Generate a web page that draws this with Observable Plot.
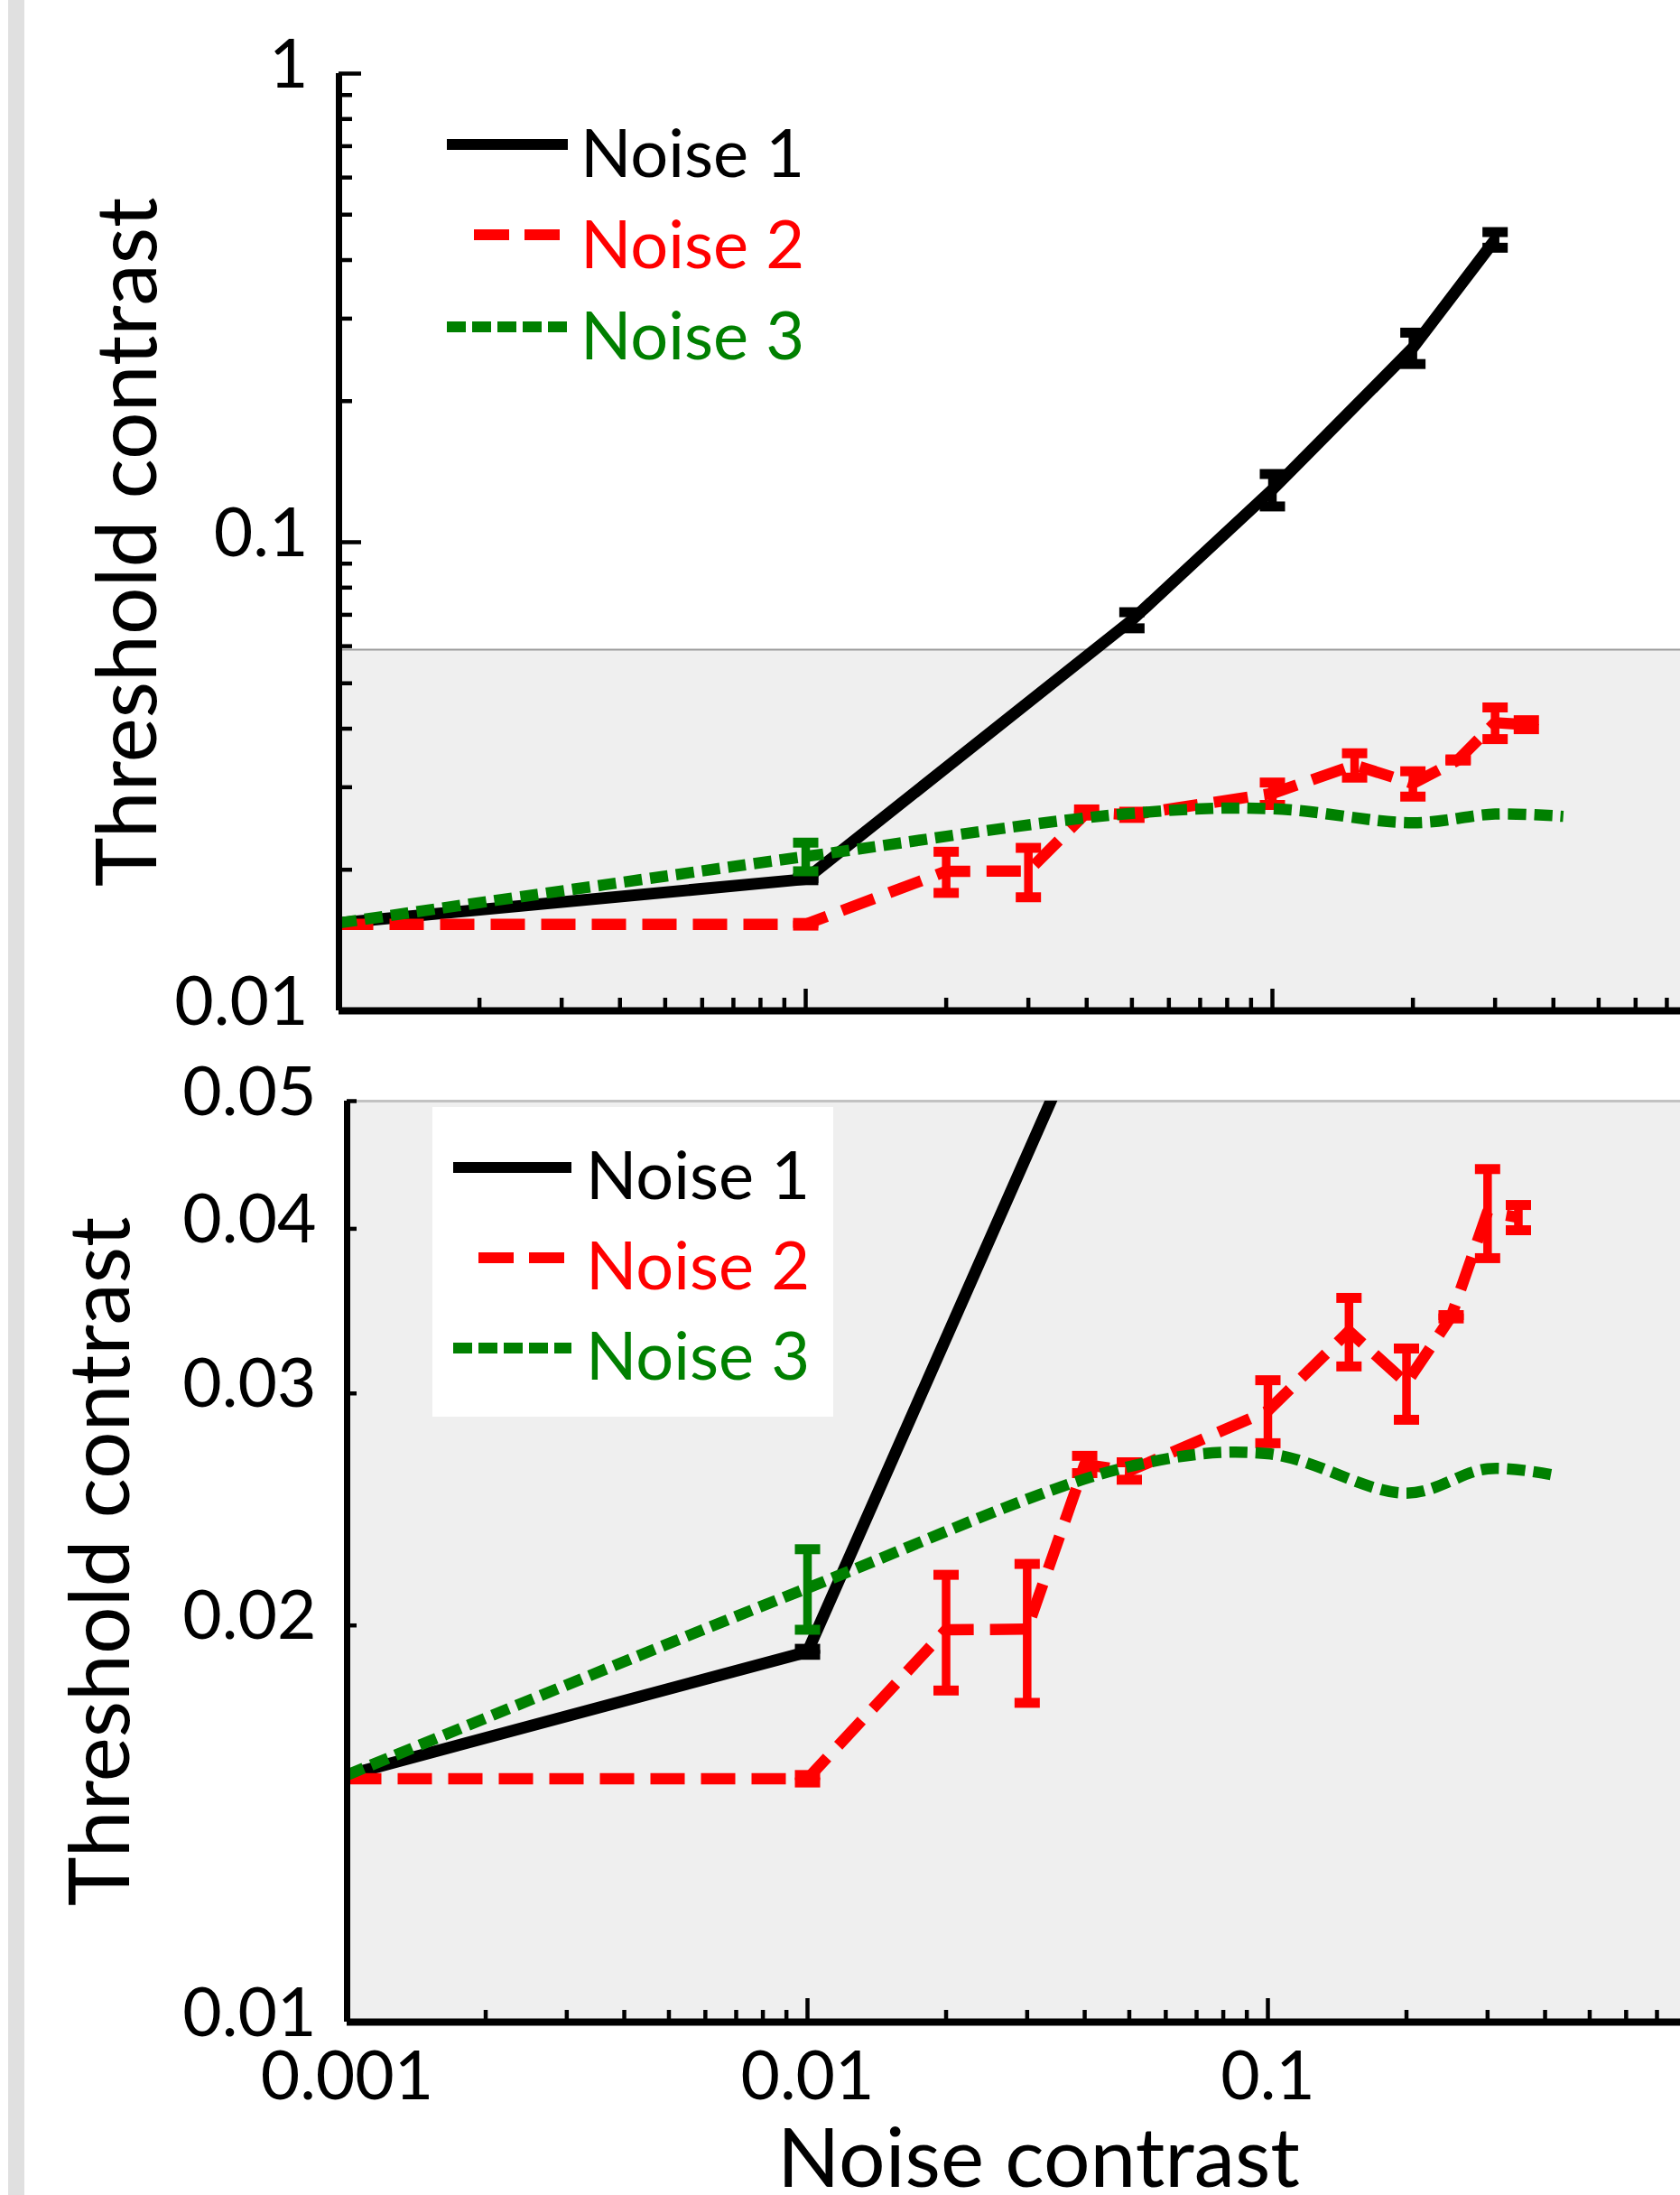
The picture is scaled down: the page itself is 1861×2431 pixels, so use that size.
<!DOCTYPE html>
<html>
<head>
<meta charset="utf-8">
<script src="https://cdn.jsdelivr.net/npm/d3@7"></script>
<script src="https://cdn.jsdelivr.net/npm/@observablehq/plot@0.6"></script>
<style>
  html, body { margin: 0; padding: 0; background: #ffffff; overflow: hidden; }
  #wrap { position: relative; width: 1861px; height: 2431px; overflow: hidden; background: #ffffff; }
  #wrap > svg, #wrap > div { position: absolute; left: 0; }
  .strip { left: 9px !important; top: 0; width: 18px; height: 2431px; background: #e0e0e0; }
</style>
</head>
<body>
<div id="wrap"></div>
<script>
// ---------------- data ----------------
const seriesNames = ["Noise 1", "Noise 2", "Noise 3"];

const noise1X   = [0.001, 0.01, 0.05, 0.1, 0.2, 0.3];
const noise1Y   = [0.0154, 0.0191, 0.0682, 0.1295, 0.260, 0.442];
const noise1Err = [0, 0.0001, 0.0027, 0.0103, 0.020, 0.017];

const noise2X   = [0.001, 0.01, 0.02, 0.03, 0.04, 0.05, 0.1, 0.15, 0.2, 0.25, 0.3, 0.35];
const noise2Y   = [0.0153, 0.0153, 0.01985, 0.01987, 0.0265, 0.0262, 0.0291, 0.03345, 0.03055, 0.0343, 0.0412, 0.0408];
const noise2Err = [0, 0.0001, 0.0020, 0.0024, 0.0004, 0.0004, 0.0016, 0.0020, 0.0019, 0.0001, 0.0032, 0.0009];

const noise3X   = [0.001, 0.01, 0.05, 0.1, 0.2, 0.3, 0.42];
const noise3Y   = [0.0154, 0.02135, 0.0264, 0.0270, 0.0252, 0.0263, 0.0260];
const noise3Err = [0, 0.0015, 0, 0, 0, 0, 0];

const shadeTop = [0.059];          // top of shaded (zoomed) region in upper panel

const xTickValues = [0.001, 0.01, 0.1];
const xTickLabels = ["0.001", "0.01", "0.1"];
const topYTickValues = [1, 0.1, 0.01];
const topYTickLabels = ["1", "0.1", "0.01"];
const botYTickValues = [0.05, 0.04, 0.03, 0.02, 0.01];
const botYTickLabels = ["0.05", "0.04", "0.03", "0.02", "0.01"];

const xLabel = "Noise contrast";
const yLabel = "Threshold contrast";

// ---------------- styles ----------------
const FONT = "Lato, 'Open Sans', sans-serif";
const colors = ["#000000", "#ff0000", "#008000"];
const dashes = [null, "38,18", "20,9"];
const widths = [13, 12.5, 12.5];
const curves = ["linear", "linear", "catmull-rom"];
const shadeFill = "#efefef";

const series = [
  {xs: noise1X, ys: noise1Y, es: noise1Err},
  {xs: noise2X, ys: noise2Y, es: noise2Err},
  {xs: noise3X, ys: noise3Y, es: noise3Err}
].map((s, i) => ({
  name: seriesNames[i], color: colors[i], dash: dashes[i], curve: curves[i], width: widths[i],
  rows: s.xs.map((x, j) => ({x, y: s.ys[j], e: s.es[j]}))
}));

const capSymbol = { draw(ctx) { ctx.rect(-14, -5.5, 28, 11); } };

function minorTicks(decades, maxV) {
  const out = [];
  for (const d of decades) for (let k = 2; k <= 9; k++) { const v = k * d; if (v <= maxV * 1.0001) out.push(+v.toPrecision(3)); }
  return out;
}

function dataMarks() {
  const marks = [];
  for (const s of series) {
    marks.push(Plot.line(s.rows, {
      x: "x", y: "y", stroke: s.color, strokeWidth: s.width,
      strokeDasharray: s.dash, curve: s.curve,
      strokeLinecap: "butt", strokeLinejoin: s.dash ? "round" : "miter", clip: true
    }));
    const bars = s.rows.filter(d => d.e > 0);
    marks.push(Plot.ruleX(bars, {x: "x", y1: d => d.y - d.e, y2: d => d.y + d.e, stroke: s.color, strokeWidth: 9.5, clip: true}));
    marks.push(Plot.dot(bars, {x: "x", y: d => d.y - d.e, symbol: capSymbol, r: 5, fill: s.color, stroke: "none", clip: true}));
    marks.push(Plot.dot(bars, {x: "x", y: d => d.y + d.e, symbol: capSymbol, r: 5, fill: s.color, stroke: "none", clip: true}));
  }
  return marks;
}

function panel(cfg) {
  const frameW = cfg.width - cfg.marginLeft - cfg.marginRight;
  const frameH = cfg.height - cfg.marginTop - cfg.marginBottom;
  const xMinor = minorTicks([0.001, 0.01, 0.1], cfg.xMax);
  const marks = [
    Plot.rect([0], {y1: cfg.yDomain[0], y2: cfg.shadeTop, fill: shadeFill}),
    Plot.ruleY([cfg.shadeTop], {stroke: cfg.shadeLine, strokeWidth: cfg.shadeLineW}),
    ...dataMarks(),
    // axis lines
    Plot.ruleX([0.001], {stroke: "#000", strokeWidth: 7}),
    Plot.ruleY([cfg.yDomain[0]], {stroke: "#000", strokeWidth: 8}),
    // y ticks (inward)
    Plot.tickY(cfg.yMajor, {y: d => d, stroke: "#000", strokeWidth: 4.5, insetRight: frameW - cfg.yMajorLen}),
    Plot.tickY(cfg.yMinor, {y: d => d, stroke: "#000", strokeWidth: 4.5, insetRight: frameW - cfg.yMinorLen}),
    // x ticks (inward)
    Plot.tickX(xTickValues, {x: d => d, stroke: "#000", strokeWidth: 4.5, insetTop: frameH - cfg.xMajorLen}),
    Plot.tickX(xMinor, {x: d => d, stroke: "#000", strokeWidth: 4.5, insetTop: frameH - cfg.xMinorLen}),
    // y tick labels
    Plot.text(cfg.yTickValues, {y: d => d, text: (d, i) => cfg.yTickLabels[i], frameAnchor: "left",
      textAnchor: "end", dx: -34, dy: -9, fontSize: 75, fontFamily: FONT, fill: "#000"}),
    // y label
    Plot.text([yLabel], {text: d => d, frameAnchor: "left", rotate: -90, dx: cfg.yLabelDx,
      textAnchor: "middle", lineAnchor: "bottom", fontSize: 93, fontFamily: FONT, fill: "#000"})
  ];
  if (cfg.showX) {
    marks.push(Plot.text(xTickValues, {x: d => d, text: (d, i) => xTickLabels[i], frameAnchor: "bottom",
      lineAnchor: "top", dy: 32, fontSize: 75, fontFamily: FONT, fill: "#000"}));
    marks.push(Plot.text([xLabel], {text: d => d, frameAnchor: "bottom-left", dx: cfg.xLabelDx, dy: cfg.xLabelDy,
      textAnchor: "middle", lineAnchor: "bottom", fontSize: 91, fontFamily: FONT, fill: "#000"}));
  }
  return Plot.plot({
    width: cfg.width, height: cfg.height,
    marginLeft: cfg.marginLeft, marginRight: cfg.marginRight,
    marginTop: cfg.marginTop, marginBottom: cfg.marginBottom,
    x: {type: "log", domain: [0.001, cfg.xMax], axis: null},
    y: {type: "log", domain: cfg.yDomain, axis: null},
    style: {background: "transparent", fontFamily: FONT, overflow: "hidden"},
    marks
  });
}

const wrap = document.getElementById("wrap");

// upper panel: decade = 517 px, x origin at 375
const topSvg = panel({
  width: 1861, height: 1146, marginLeft: 375, marginRight: 0, marginTop: 81, marginBottom: 27,
  xMax: Math.pow(10, -3 + (1861 - 375) / 517),
  yDomain: [0.01, 1], shadeTop: shadeTop[0], shadeLine: "#9c9c9c", shadeLineW: 2,
  yMajor: [1, 0.1], yMinor: minorTicks([0.01, 0.1], 0.9), yMajorLen: 25, yMinorLen: 15,
  xMajorLen: 24, xMinorLen: 14,
  yTickValues: topYTickValues, yTickLabels: topYTickLabels,
  yLabelDx: -203, showX: false
});
topSvg.style.top = "0px";
wrap.appendChild(topSvg);

// lower panel: decade = 510 px, x origin at 384
const botSvg = panel({
  width: 1861, height: 1295, marginLeft: 384, marginRight: 0, marginTop: 83, marginBottom: 192,
  xMax: Math.pow(10, -3 + (1861 - 384) / 510),
  yDomain: [0.01, 0.05], shadeTop: 0.05, shadeLine: "#c2c2c2", shadeLineW: 3,
  yMajor: botYTickValues, yMinor: [], yMajorLen: 11, yMinorLen: 11,
  xMajorLen: 26, xMinorLen: 13,
  yTickValues: botYTickValues, yTickLabels: botYTickLabels,
  yLabelDx: -242, showX: true, xLabelDx: 1150 - 384, xLabelDy: 182
});
botSvg.style.top = "1136px";
wrap.appendChild(botSvg);

// legends (overlay)
const legends = [
  {box: null, textX: 643, base: [196, 297, 398], sy: [160, 260, 362], sx: [[495, 629], [525, 623], [495, 629]]},
  {box: [479, 1226, 923, 1569], textX: 649, base: [1328, 1428, 1528], sy: [1293, 1393, 1493], sx: [[502, 633], [530, 626], [502, 633]]}
];
const legendDash = [null, "39,17", "21,7"];
const ov = d3.create("svg").attr("width", 1861).attr("height", 2431)
  .style("top", "0px").style("pointer-events", "none");
for (const L of legends) {
  if (L.box) ov.append("rect").attr("x", L.box[0]).attr("y", L.box[1])
    .attr("width", L.box[2] - L.box[0]).attr("height", L.box[3] - L.box[1]).attr("fill", "#ffffff");
  seriesNames.forEach((name, i) => {
    ov.append("line").attr("x1", L.sx[i][0]).attr("x2", L.sx[i][1]).attr("y1", L.sy[i]).attr("y2", L.sy[i])
      .attr("stroke", colors[i]).attr("stroke-width", 12)
      .attr("stroke-dasharray", legendDash[i]);
    ov.append("text").attr("x", L.textX).attr("y", L.base[i]).text(name)
      .attr("fill", colors[i]).attr("font-family", FONT).attr("font-size", 74);
  });
}
wrap.appendChild(ov.node());

const strip = document.createElement("div");
strip.className = "strip";
wrap.appendChild(strip);
</script>
</body>
</html>
